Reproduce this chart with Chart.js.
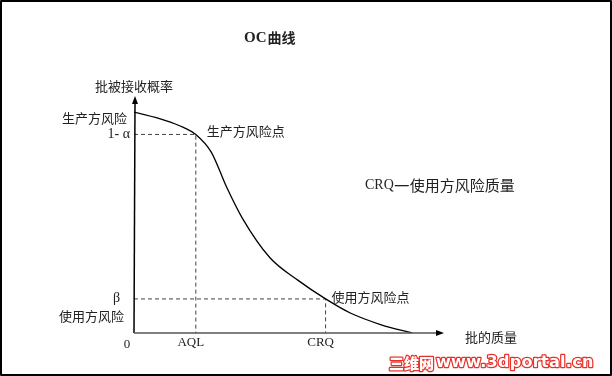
<!DOCTYPE html>
<html>
<head>
<meta charset="utf-8">
<script src="https://cdn.jsdelivr.net/npm/chart.js@4"></script>
<style>
  html, body { margin: 0; padding: 0; background: #fff; }
  #wrap { position: relative; width: 612px; height: 376px; }
  canvas { display: block; }
</style>
</head>
<body>
<div id="wrap"><canvas id="oc" width="612" height="376"></canvas></div>
<script>
// Data (x = lot quality, y = probability of acceptance)
const curveX = [0, 1, 1.6, 2, 2.5, 3, 3.5, 4.4, 5.3, 6.2, 7, 8, 9];
const curveY = [0.94, 0.905, 0.875, 0.845, 0.77, 0.62, 0.49, 0.32, 0.225, 0.145, 0.085, 0.035, 0.0];
const AQL = 2;
const CRQ = 6.2;
const oneMinusAlpha = 0.845;
const beta = 0.145;
const xTickLabels = ['0', 'AQL', 'CRQ'];
const xTickValues = [0, AQL, CRQ];

const CJK = "'Noto Sans CJK SC'";
const SERIF = "'Liberation Serif'";

function pts(xs, ys) {
  return xs.map((x, i) => ({ x: x, y: ys[i] }));
}

// Axes, arrows and text drawn on top using the chart scales
const decor = {
  id: 'decor',
  afterDraw(chart) {
    const c = chart.ctx;
    const xs = chart.scales.x, ys = chart.scales.y;
    const x0 = xs.getPixelForValue(0), y0 = ys.getPixelForValue(0);
    const xEnd = xs.getPixelForValue(xs.max), yEnd = ys.getPixelForValue(ys.max);
    c.save();
    c.strokeStyle = '#000';
    c.fillStyle = '#000';
    c.lineWidth = 1.5;
    // y axis
    c.beginPath(); c.moveTo(x0, y0); c.lineTo(x0 + 1, yEnd + 4); c.stroke();
    c.beginPath(); c.moveTo(x0 + 1, yEnd - 2); c.lineTo(x0 - 2, yEnd + 6); c.lineTo(x0 + 4, yEnd + 6); c.closePath(); c.fill();
    // x axis
    c.strokeStyle = '#555';
    c.beginPath(); c.moveTo(x0, y0); c.lineTo(xEnd - 4, y0); c.stroke();
    c.fillStyle = '#000';
    c.beginPath(); c.moveTo(xEnd + 1, y0); c.lineTo(xEnd - 7, y0 - 3); c.lineTo(xEnd - 7, y0 + 3); c.closePath(); c.fill();

    c.fillStyle = '#222';
    c.textBaseline = 'middle';
    // x tick labels
    c.font = `13px ${SERIF}`;
    c.textAlign = 'center';
    xTickLabels.forEach((t, i) => {
      const px = xs.getPixelForValue(xTickValues[i]);
      c.fillText(t, i === 0 ? px - 7 : px - 5, y0 + (i === 0 ? 12 : 10));
    });
    // y labels
    const yA = ys.getPixelForValue(oneMinusAlpha), yB = ys.getPixelForValue(beta);
    c.textAlign = 'right';
    c.font = `14px ${SERIF}`;
    c.fillText('1- α', x0 - 4, yA);
    c.fillText('β', x0 - 14, yB - 1);
    c.font = `13px ${CJK}`;
    c.fillText('生产方风险', x0 - 7, yA - 16);
    c.fillText('使用方风险', x0 - 10, yB + 17);
    c.textAlign = 'left';
    c.fillText('生产方风险点', xs.getPixelForValue(AQL) + 11, yA - 3);
    c.fillText('使用方风险点', xs.getPixelForValue(CRQ) + 6, yB - 2);
    // axis titles
    c.fillText('批被接收概率', x0 - 39, yEnd - 12);
    c.fillText('批的质量', xEnd + 22, y0 + 4);
    // note
    c.font = `14px ${SERIF}`;
    c.fillText('CRQ', 365, 185);
    const w = c.measureText('CRQ').width;
    c.fillRect(365 + w + 1, 185, 14, 1.3);
    c.font = `15px ${CJK}`;
    c.fillText('使用方风险质量', 365 + w + 16, 185);
    // title
    c.textAlign = 'left';
    c.font = `bold 15px ${SERIF}`;
    c.fillText('OC', 244, 38);
    const tw = c.measureText('OC').width;
    c.font = `bold 14px ${CJK}`;
    c.fillText('曲线', 244 + tw + 1, 38);
    // watermark
    c.lineJoin = 'round';
    c.strokeStyle = '#e8302a';
    c.lineWidth = 2.5;
    c.fillStyle = '#fff';
    c.font = `900 15px ${CJK}`;
    c.strokeText('三维网', 389, 363);
    c.fillText('三维网', 389, 363);
    c.font = `bold 16px 'DejaVu Sans'`;
    c.letterSpacing = '0.3px';
    c.strokeText('www.3dportal.cn', 436, 363);
    c.fillText('www.3dportal.cn', 436, 363);
    c.letterSpacing = '0px';
    // frame
    c.strokeStyle = '#000';
    c.lineWidth = 2;
    c.strokeRect(1, 1, 610, 374);
    c.restore();
  }
};

new Chart(document.getElementById('oc'), {
  type: 'scatter',
  data: {
    datasets: [
      {
        data: pts(curveX, curveY),
        showLine: true,
        borderColor: '#000',
        borderWidth: 1.3,
        pointRadius: 0,
        cubicInterpolationMode: 'monotone'
      },
      {
        data: [{ x: 0, y: oneMinusAlpha }, { x: AQL, y: oneMinusAlpha }, { x: AQL, y: 0 }],
        showLine: true,
        borderColor: '#444',
        borderWidth: 1,
        borderDash: [4, 3],
        pointRadius: 0
      },
      {
        data: [{ x: 0, y: beta }, { x: CRQ, y: beta }, { x: CRQ, y: 0 }],
        showLine: true,
        borderColor: '#444',
        borderWidth: 1,
        borderDash: [4, 3],
        pointRadius: 0
      }
    ]
  },
  options: {
    responsive: false,
    animation: false,
    layout: { padding: { left: 134, right: 169, top: 98, bottom: 43 } },
    plugins: { legend: { display: false }, tooltip: { enabled: false } },
    scales: {
      x: { type: 'linear', min: 0, max: 10, display: false },
      y: { type: 'linear', min: 0, max: 1, display: false }
    }
  },
  plugins: [decor]
});
</script>
</body>
</html>
